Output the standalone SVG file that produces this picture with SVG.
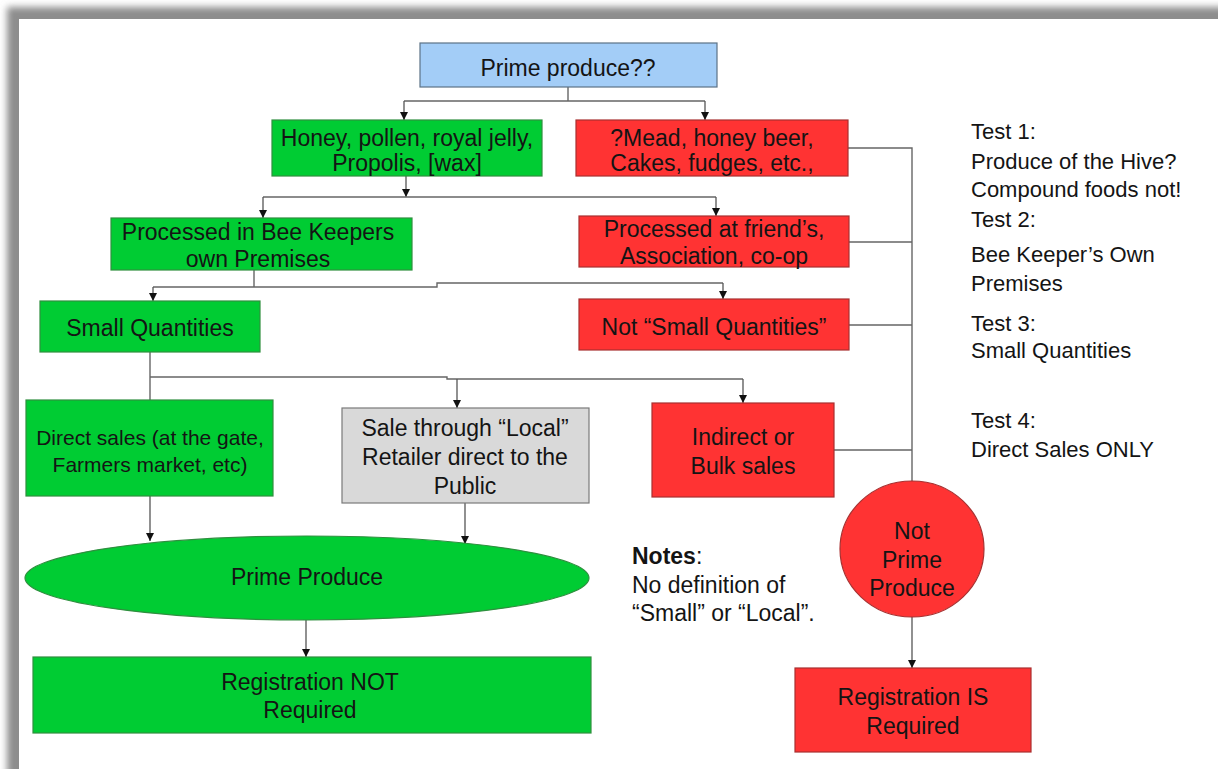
<svg xmlns="http://www.w3.org/2000/svg" width="1218" height="769" viewBox="0 0 1218 769">
<defs>
<filter id="blur" x="-5%" y="-5%" width="110%" height="110%"><feGaussianBlur stdDeviation="3.5"/></filter>
<marker id="arr" viewBox="0 0 10 10" refX="10" refY="5" markerWidth="8" markerHeight="9" markerUnits="userSpaceOnUse" orient="auto">
<path d="M0,0 L10,5 L0,10 z" fill="#111"/>
</marker>
<style>
text{font-family:"Liberation Sans",Arial,sans-serif;fill:#141414;font-size:23px}
.c{text-anchor:middle}
.s{font-size:21px}
.t{font-size:22px}
.g{fill:#00cc33;stroke:#2f8f3f;stroke-width:1.2}
.r{fill:#ff3333;stroke:#a83030;stroke-width:1.2}
.b{fill:#a3cdf7;stroke:#5c7286;stroke-width:1.2}
.y{fill:#d9d9d9;stroke:#7a7a7a;stroke-width:1.2}
.ln{fill:none;stroke:#666;stroke-width:1.4}
.ar{fill:none;stroke:#555;stroke-width:1.3;marker-end:url(#arr)}
</style>
</defs>
<rect width="1218" height="769" fill="#fff"/>
<rect x="7" y="7" width="1240" height="800" fill="#8d8d8d" filter="url(#blur)"/>
<rect x="19" y="19" width="1220" height="770" fill="#fff"/>

<g id="connectors">
<path class="ln" d="M568 87 V101 M404 101 H705"/>
<path class="ar" d="M404 101 V120"/>
<path class="ar" d="M705 101 V120"/>
<path class="ar" d="M406 176 V197"/>
<path class="ln" d="M263 197 H716"/>
<path class="ar" d="M263 197 V218"/>
<path class="ar" d="M716 197 V216"/>
<path class="ln" d="M254 270 V287 M153 287 H437 V283 H723"/>
<path class="ar" d="M153 287 V301"/>
<path class="ar" d="M723 283 V299"/>
<path class="ln" d="M150 352 V400 M150 377 H447 V379 H743"/>
<path class="ar" d="M457 379 V408"/>
<path class="ar" d="M743 379 V403"/>
<path class="ar" d="M150 496 V541"/>
<path class="ar" d="M465 503 V544"/>
<path class="ar" d="M306 620 V657"/>
<path class="ln" d="M848 148 H912 V481 M849 242 H912 M833 325 H912 M834 450 H912"/>
<path class="ar" d="M912 617 V668"/>
</g>

<g id="n-prime-q"><rect class="b" x="420" y="43" width="297" height="44"/><text class="c" x="568" y="76">Prime produce??</text></g>
<g id="n-honey"><rect class="g" x="272" y="120" width="270" height="56"/><text class="c" x="407" y="146">Honey, pollen, royal jelly,</text><text class="c" x="407" y="171">Propolis, [wax]</text></g>
<g id="n-mead"><rect class="r" x="576" y="120" width="272" height="56"/><text class="c" x="712" y="146">?Mead, honey beer,</text><text class="c" x="712" y="171">Cakes, fudges, etc.,</text></g>
<g id="n-own"><rect class="g" x="111" y="218" width="301" height="52"/><text class="c" x="258" y="240">Processed in Bee Keepers</text><text class="c" x="258" y="267">own Premises</text></g>
<g id="n-friend"><rect class="r" x="579" y="216" width="270" height="51"/><text class="c" x="714" y="237">Processed at friend’s,</text><text class="c" x="714" y="264">Association, co-op</text></g>
<g id="n-small"><rect class="g" x="40" y="301" width="220" height="51"/><text class="c" x="150" y="336">Small Quantities</text></g>
<g id="n-notsmall"><rect class="r" x="579" y="299" width="270" height="51"/><text class="c" x="714" y="335">Not “Small Quantities”</text></g>
<g id="n-direct"><rect class="g" x="26" y="400" width="247" height="96"/><text class="c s" x="150" y="445">Direct sales (at the gate,</text><text class="c s" x="150" y="472">Farmers market, etc)</text></g>
<g id="n-local"><rect class="y" x="342" y="408" width="247" height="95"/><text class="c" x="465" y="436">Sale through “Local”</text><text class="c" x="465" y="465">Retailer direct to the</text><text class="c" x="465" y="494">Public</text></g>
<g id="n-indirect"><rect class="r" x="652" y="403" width="182" height="94"/><text class="c" x="743" y="445">Indirect or</text><text class="c" x="743" y="474">Bulk sales</text></g>
<g id="n-prime"><ellipse class="g" cx="307" cy="578" rx="282" ry="42"/><text class="c" x="307" y="585">Prime Produce</text></g>
<g id="n-regnot"><rect class="g" x="33" y="657" width="558" height="76"/><text class="c" x="310" y="690">Registration NOT</text><text class="c" x="310" y="718">Required</text></g>
<g id="n-notprime"><ellipse class="r" cx="912" cy="549" rx="72" ry="68"/><text class="c" x="912" y="539">Not</text><text class="c" x="912" y="568">Prime</text><text class="c" x="912" y="596">Produce</text></g>
<g id="n-regis"><rect class="r" x="795" y="668" width="236" height="84"/><text class="c" x="913" y="705">Registration IS</text><text class="c" x="913" y="734">Required</text></g>

<g id="notes"><text x="632" y="564"><tspan font-weight="bold">Notes</tspan>:</text><text x="632" y="593">No definition of</text><text x="632" y="621">“Small” or “Local”.</text></g>
<g id="tests" class="t">
<text class="t" x="971" y="139">Test 1:</text>
<text class="t" x="971" y="169">Produce of the Hive?</text>
<text class="t" x="971" y="197">Compound foods not!</text>
<text class="t" x="971" y="227">Test 2:</text>
<text class="t" x="971" y="262">Bee Keeper’s Own</text>
<text class="t" x="971" y="291">Premises</text>
<text class="t" x="971" y="331">Test 3:</text>
<text class="t" x="971" y="358">Small Quantities</text>
<text class="t" x="971" y="428">Test 4:</text>
<text class="t" x="971" y="457">Direct Sales ONLY</text>
</g>
</svg>
